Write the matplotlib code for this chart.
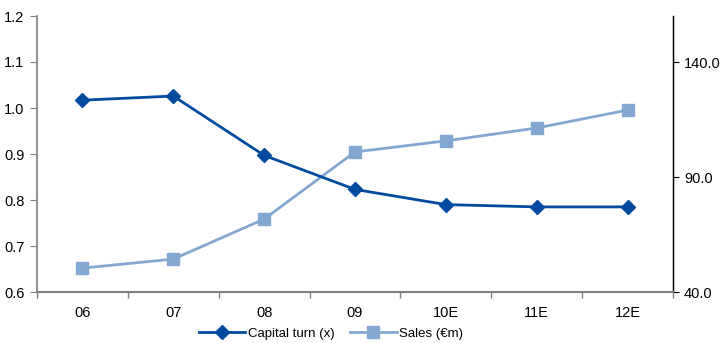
import matplotlib.pyplot as plt
from matplotlib.ticker import FixedLocator, NullFormatter, FixedFormatter

plt.rcParams['font.family'] = ['Liberation Sans', 'DejaVu Sans']

years = ['06', '07', '08', '09', '10E', '11E', '12E']
capital_turn = [1.017, 1.026, 0.897, 0.823, 0.790, 0.785, 0.785]
sales = [50.4, 54.3, 71.7, 100.9, 105.7, 111.3, 119.1]

dark = '#004A9F'
light = '#84A7D2'
grey = '#7F7F7F'

fig = plt.figure(figsize=(7.23, 3.43), dpi=100)
ax = fig.add_axes([37 / 723, 51 / 343, 636 / 723, 276 / 343])
ax2 = ax.twinx()

x = list(range(len(years)))
l1, = ax.plot(x, capital_turn, color=dark, lw=2, marker='D', ms=7,
              label='Capital turn (x)', zorder=3)
l2, = ax2.plot(x, sales, color=light, lw=2, marker='s', ms=9,
               label='Sales (€m)', zorder=2)

ax.set_xlim(-0.5, len(years) - 0.5)
ax.set_ylim(0.6, 1.2)
ax.set_yticks([0.6, 0.7, 0.8, 0.9, 1.0, 1.1, 1.2])
ax.set_yticklabels(['0.6', '0.7', '0.8', '0.9', '1.0', '1.1', '1.2'])
ax2.set_ylim(40, 160)
ax2.set_yticks([40, 90, 140])
ax2.set_yticklabels(['40.0', '90.0', '140.0'])

# category ticks sit between the labels
ax.xaxis.set_major_locator(FixedLocator([i - 0.5 for i in range(len(years) + 1)]))
ax.xaxis.set_major_formatter(NullFormatter())
ax.xaxis.set_minor_locator(FixedLocator(x))
ax.xaxis.set_minor_formatter(FixedFormatter(years))
ax.tick_params(axis='x', which='minor', length=0, pad=10, labelsize=10.5)
ax.tick_params(axis='x', which='major', length=4, color=grey, width=1)
ax.tick_params(axis='y', length=5, color=grey, labelsize=10.5, pad=4)
ax2.tick_params(axis='y', length=4, color='black', labelsize=10.5, pad=4)

for a in (ax, ax2):
    a.spines['top'].set_visible(False)
ax.spines['left'].set_color(grey)
ax.spines['bottom'].set_color(grey)
ax.spines['bottom'].set_linewidth(1.5)
ax.spines['left'].set_linewidth(1.2)
ax2.spines['left'].set_visible(False)
ax2.spines['bottom'].set_visible(False)
ax2.spines['right'].set_color('black')
ax2.spines['right'].set_linewidth(1)

ax.set_zorder(ax2.get_zorder() + 1)
ax.patch.set_visible(False)

fig.legend([l1, l2], ['Capital turn (x)', 'Sales (€m)'], loc='center',
           bbox_to_anchor=(0.458, 0.027), ncol=2, frameon=False, fontsize=9.5,
           handlelength=3.5, columnspacing=1.2, handletextpad=0.2)

fig.savefig('out.png', dpi=100)
